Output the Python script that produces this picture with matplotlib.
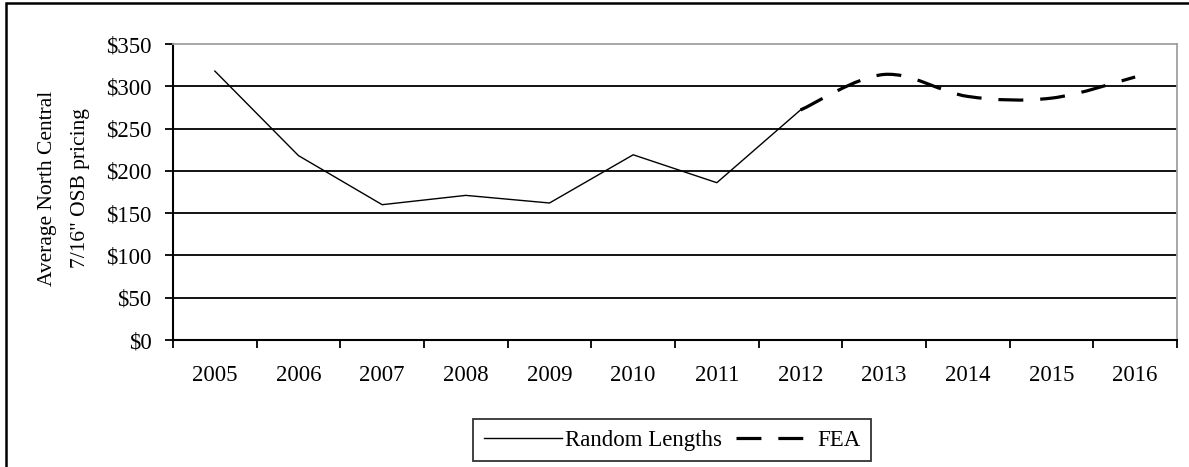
import matplotlib
matplotlib.use('Agg')
import matplotlib.pyplot as plt
from matplotlib.path import Path
from matplotlib.patches import PathPatch, Rectangle
from matplotlib.lines import Line2D

years = ['2005', '2006', '2007', '2008', '2009', '2010', '2011', '2012',
         '2013', '2014', '2015', '2016']
random_lengths = [318, 218, 160, 171, 162, 219, 186, 272]
fea_years = ['2012', '2013', '2014', '2015', '2016']
fea = [272, 314, 288, 286, 311]
yticks = [0, 50, 100, 150, 200, 250, 300, 350]

plt.rcParams['font.family'] = ['Liberation Serif', 'DejaVu Serif']
FS = 16.5
DASH = (0, (7.8, 5.3))

fig = plt.figure(figsize=(11.89, 4.67), dpi=100)
ax = fig.add_axes([173/1189, 1 - 340/467, (1177 - 173)/1189, (340 - 44)/467])

xpos = {y: i for i, y in enumerate(years)}

### 1. Random Lengths (straight segments)
ax.plot([xpos[y] for y in years[:len(random_lengths)]], random_lengths,
        '-', c='black', lw=1.0)

### 2. FEA: smoothed dashed curve (bezier through the data points)
px = [xpos[y] for y in fea_years]
py = fea
verts = [(px[0], py[0])]
codes = [Path.MOVETO]
n = len(px)
for i in range(n - 1):
    p0 = (px[max(i - 1, 0)], py[max(i - 1, 0)])
    p1 = (px[i], py[i])
    p2 = (px[i + 1], py[i + 1])
    p3 = (px[min(i + 2, n - 1)], py[min(i + 2, n - 1)])
    c1 = (p1[0] + (p2[0] - p0[0]) / 6, p1[1] + (p2[1] - p0[1]) / 6)
    c2 = (p2[0] - (p3[0] - p1[0]) / 6, p2[1] - (p3[1] - p1[1]) / 6)
    verts += [c1, c2, p2]
    codes += [Path.CURVE4] * 3
ax.add_patch(PathPatch(Path(verts, codes), fill=False, ec='black', lw=2.3,
                       linestyle=DASH, capstyle='butt'))

### 3. Axes styling
ax.set_xlim(-0.5, len(years) - 0.5)
ax.set_ylim(0, 350)
ax.set_yticks(yticks)
ax.set_yticklabels(['$%d' % v for v in yticks], fontsize=FS)
for v in yticks[1:-1]:
    ax.axhline(v, c='black', lw=1.3, zorder=0)
ax.set_xticks([i - 0.5 for i in range(len(years) + 1)])
ax.set_xticklabels([])
ax.set_xticks(range(len(years)), minor=True)
ax.set_xticklabels(years, minor=True, fontsize=FS)
ax.tick_params(axis='x', which='minor', length=0, pad=18)
ax.tick_params(axis='both', which='major', direction='out', length=6,
               width=1.3)
ax.tick_params(axis='y', pad=9.5)
for s in ['left', 'bottom']:
    ax.spines[s].set_color('black')
    ax.spines[s].set_linewidth(1.5)
for s in ['top', 'right']:
    ax.spines[s].set_color('#a0a0a0')
    ax.spines[s].set_linewidth(1.3)

# two-line y title, each line placed on its own
fig.text(48/1189, 1 - 188/467, 'Average North Central', rotation=90,
         ha='center', va='center', fontsize=15.5)
fig.text(80/1189, 1 - 188/467, '7/16" OSB pricing', rotation=90,
         ha='center', va='center', fontsize=15.5)

### 4. Legend
handles = [Line2D([], [], c='black', lw=1.0),
           Line2D([], [], c='black', lw=2.3, linestyle=DASH)]
leg = fig.legend(handles, ['Random Lengths', 'FEA'], loc='center',
                 bbox_to_anchor=(672/1189, 1 - 440/467), ncol=2,
                 fontsize=FS, frameon=True, fancybox=False, handlelength=3.4,
                 handletextpad=0.15, columnspacing=0.6, borderpad=0.45,
                 borderaxespad=0)
leg.get_frame().set_edgecolor('black')
leg.get_frame().set_linewidth(1.3)

### 5. Outer frame (image is cropped at right/bottom)
fig.add_artist(Rectangle((6/1189, -0.1), 2.0, 1.1 - 3/467, fill=False,
                         ec='black', lw=1.8, transform=fig.transFigure))

fig.savefig('out.png', dpi=100, facecolor='white')
